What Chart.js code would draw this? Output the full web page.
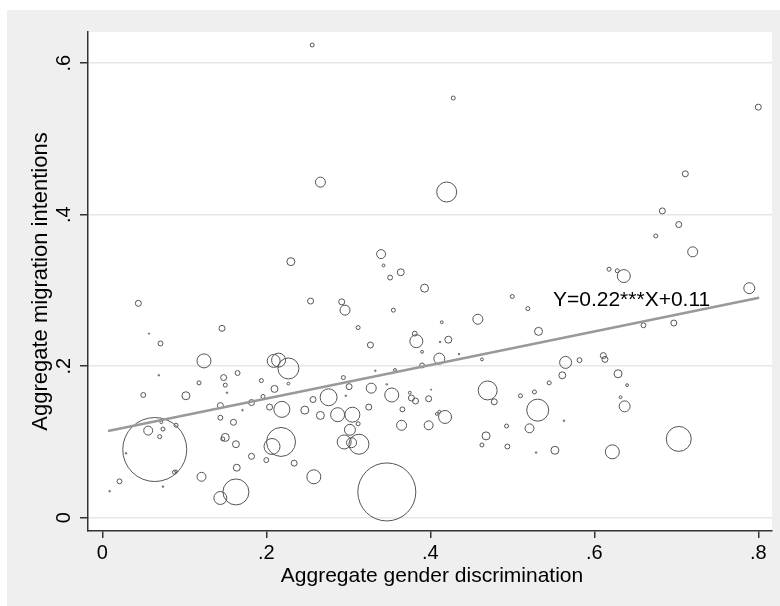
<!DOCTYPE html>
<html>
<head>
<meta charset="utf-8">
<script src="https://cdn.jsdelivr.net/npm/chart.js@4"></script>
<style>
  html, body { margin: 0; padding: 0; background: #fff; }
</style>
</head>
<body>
<canvas id="chart" width="780" height="606"></canvas>
<script>
// aggregate gender discrimination (x), aggregate migration intentions (y), bubble weights
const discrimination = [
  0.256, 0.266, 0.230, 0.428, 0.420, 0.340, 0.343, 0.364, 0.351, 0.800,
  0.711, 0.683, 0.703, 0.675, 0.720, 0.618, 0.628, 0.636, 0.044, 0.057,
  0.071, 0.146, 0.254, 0.124, 0.209, 0.215, 0.227, 0.069, 0.118, 0.148,
  0.165, 0.150, 0.152, 0.194, 0.227, 0.210, 0.196, 0.050, 0.102, 0.144,
  0.182, 0.171, 0.204, 0.219, 0.247, 0.257, 0.266, 0.144, 0.160, 0.072,
  0.090, 0.056, 0.074, 0.070, 0.064, 0.029, 0.150, 0.147, 0.163, 0.218,
  0.207, 0.182, 0.200, 0.234, 0.258, 0.164, 0.121, 0.088, 0.090, 0.021,
  0.009, 0.074, 0.163, 0.144, 0.393, 0.292, 0.296, 0.355, 0.312, 0.327,
  0.500, 0.519, 0.458, 0.414, 0.532, 0.381, 0.383, 0.412, 0.422, 0.390,
  0.435, 0.411, 0.463, 0.390, 0.333, 0.357, 0.294, 0.301, 0.276, 0.328,
  0.347, 0.353, 0.297, 0.375, 0.377, 0.382, 0.398, 0.470, 0.478, 0.401,
  0.325, 0.366, 0.287, 0.305, 0.312, 0.302, 0.295, 0.304, 0.313, 0.365,
  0.398, 0.408, 0.411, 0.418, 0.347, 0.468, 0.463, 0.494, 0.493, 0.521,
  0.531, 0.510, 0.527, 0.545, 0.561, 0.565, 0.563, 0.529, 0.552, 0.789,
  0.660, 0.697, 0.582, 0.611, 0.613, 0.629, 0.640, 0.632, 0.637, 0.703,
  0.622
];
const migration = [
  0.624, 0.443, 0.338, 0.554, 0.430, 0.348, 0.333, 0.324, 0.317, 0.542,
  0.454, 0.405, 0.387, 0.372, 0.351, 0.328, 0.326, 0.319, 0.283, 0.243,
  0.230, 0.250, 0.286, 0.207, 0.207, 0.208, 0.197, 0.188, 0.178, 0.185,
  0.191, 0.175, 0.165, 0.181, 0.177, 0.170, 0.160, 0.162, 0.161, 0.148,
  0.152, 0.142, 0.146, 0.143, 0.142, 0.156, 0.135, 0.132, 0.126, 0.126,
  0.122, 0.115, 0.117, 0.107, 0.090, 0.085, 0.106, 0.104, 0.097, 0.100,
  0.094, 0.081, 0.076, 0.072, 0.054, 0.066, 0.054, 0.060, 0.061, 0.048,
  0.035, 0.041, 0.034, 0.026, 0.303, 0.285, 0.274, 0.274, 0.251, 0.228,
  0.292, 0.276, 0.262, 0.258, 0.246, 0.243, 0.233, 0.232, 0.235, 0.219,
  0.216, 0.210, 0.209, 0.201, 0.194, 0.195, 0.185, 0.173, 0.159, 0.171,
  0.176, 0.162, 0.161, 0.165, 0.158, 0.154, 0.157, 0.168, 0.153, 0.169,
  0.146, 0.143, 0.136, 0.136, 0.124, 0.116, 0.100, 0.099, 0.097, 0.122,
  0.122, 0.137, 0.140, 0.133, 0.034, 0.108, 0.096, 0.094, 0.121, 0.118,
  0.142, 0.161, 0.166, 0.178, 0.188, 0.205, 0.128, 0.086, 0.089, 0.303,
  0.254, 0.257, 0.208, 0.214, 0.209, 0.190, 0.175, 0.159, 0.147, 0.104,
  0.087
];
const weights = [
  4, 25, 16, 4, 100, 20, 2, 12, 6, 9,
  9, 9, 9, 4, 25, 4, 4, 42, 9, 0.4,
  6, 9, 9, 49, 42, 49, 110, 0.6, 4, 9,
  6, 4, 0.6, 4, 2, 12, 4, 6, 16, 9,
  9, 0.6, 9, 64, 16, 9, 16, 6, 9, 2,
  4, 20, 4, 4, 1024, 0.6, 16, 4, 12, 210,
  64, 9, 6, 9, 49, 12, 20, 4, 2, 6,
  0.6, 0.6, 169, 42, 16, 9, 25, 4, 4, 9,
  4, 4, 25, 2, 16, 6, 42, 0.6, 12, 2,
  0.6, 30, 2, 6, 0.6, 2, 4, 9, 72, 25,
  0.6, 49, 0.6, 2, 9, 9, 9, 90, 9, 0.3,
  9, 6, 49, 56, 4, 30, 49, 25, 100, 25,
  20, 2, 2, 42, 841, 16, 4, 6, 4, 20,
  121, 4, 4, 4, 12, 36, 0.6, 0.6, 16, 30,
  6, 9, 6, 9, 9, 16, 2, 2, 30, 156,
  49
];

const xTicks = [0, 0.2, 0.4, 0.6, 0.8];
const yTicks = [0, 0.2, 0.4, 0.6];

// fitted line end points and its label
const fitX = [0.007, 0.801];
const fitY = [0.1145, 0.2904];
const fitLabel = "Y=0.22***X+0.11";

const xTitle = "Aggregate gender discrimination";
const yTitle = "Aggregate migration intentions";

const FONT = "'Liberation Sans', Arial, Helvetica, sans-serif";
const fmt = (v) => (v === 0 ? "0" : String(v).replace(/^0/, ""));

const frame = {
  id: "frame",
  beforeDraw(chart) {
    const { ctx, chartArea: a, width, height } = chart;
    ctx.save();
    ctx.fillStyle = "#fff";
    ctx.fillRect(0, 0, width, height);
    ctx.fillStyle = "#efefef";
    ctx.fillRect(7, 10, width - 7, height - 10);
    ctx.fillStyle = "#fff";
    ctx.fillRect(a.left, a.top, a.right - a.left, a.bottom - a.top);
    ctx.restore();
  },
  afterDraw(chart) {
    const { ctx, chartArea: a } = chart;
    const ys = chart.scales.y;
    const xs = chart.scales.x;
    ctx.save();
    ctx.fillStyle = "#000";
    ctx.font = "20px " + FONT;
    ctx.textAlign = "center";
    ctx.textBaseline = "alphabetic";

    // rotated y tick labels
    ys.ticks.forEach((t, i) => {
      ctx.save();
      ctx.translate(70, ys.getPixelForTick(i));
      ctx.rotate(-Math.PI / 2);
      ctx.fillText(fmt(t.value), 0, 0);
      ctx.restore();
    });

    // axis titles
    ctx.save();
    ctx.font = "22px " + FONT;
    ctx.translate(47, (a.top + a.bottom) / 2);
    ctx.rotate(-Math.PI / 2);
    ctx.fillText(yTitle, 0, 0);
    ctx.restore();
    ctx.font = "21px " + FONT;
    ctx.fillText(xTitle, (a.left + a.right) / 2 + 2, 582);

    // fit label
    ctx.textAlign = "left";
    ctx.fillText(fitLabel, xs.getPixelForValue(0.5496), ys.getPixelForValue(0.2795));
    ctx.restore();
  }
};

new Chart(document.getElementById("chart"), {
  type: "bubble",
  data: {
    datasets: [
      {
        type: "line",
        data: fitX.map((x, i) => ({ x, y: fitY[i] })),
        borderColor: "#999999",
        borderWidth: 2.5,
        pointRadius: 0,
        fill: false,
        order: 0
      },
      {
        data: discrimination.map((x, i) => ({ x, y: migration[i], r: Math.sqrt(weights[i]) })),
        borderColor: "#555555",
        borderWidth: 1,
        backgroundColor: "rgba(0,0,0,0)",
        order: 1
      }
    ]
  },
  options: {
    responsive: false,
    animation: false,
    layout: { autoPadding: false, padding: { left: 0, top: 32, right: 8, bottom: 0 } },
    plugins: {
      legend: { display: false },
      tooltip: { enabled: false }
    },
    scales: {
      x: {
        type: "linear",
        min: -0.0174,
        max: 0.8167,
        afterBuildTicks: (s) => { s.ticks = xTicks.map((v) => ({ value: v })); },
        afterFit: (s) => { s.height = 75; s.paddingLeft = 0; s.paddingRight = 0; },
        grid: { drawOnChartArea: false, drawTicks: true, tickLength: 7, tickColor: "#333", lineWidth: 1.5 },
        border: { display: true, color: "#333", width: 1.5 },
        ticks: {
          color: "#000",
          padding: 3,
          maxRotation: 0,
          font: { family: FONT, size: 20 },
          callback: (v) => fmt(v)
        }
      },
      y: {
        type: "linear",
        min: -0.01756,
        max: 0.6412,
        afterBuildTicks: (s) => { s.ticks = yTicks.map((v) => ({ value: v })); },
        afterFit: (s) => { s.width = 88; s.paddingTop = 0; s.paddingBottom = 0; },
        grid: { color: "#e6e6e6", lineWidth: 1.5, tickColor: "#333", tickLength: 8 },
        border: { display: true, color: "#333", width: 1.5 },
        ticks: { display: false }
      }
    }
  },
  plugins: [frame]
});
</script>
</body>
</html>
